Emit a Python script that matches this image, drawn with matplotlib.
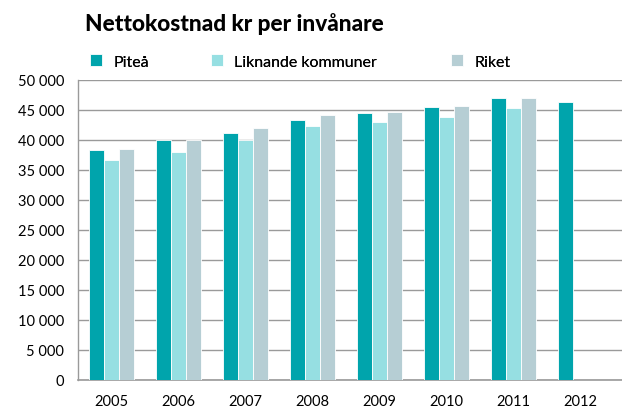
import numpy as np
import matplotlib.pyplot as plt

# Data
years = ['2005', '2006', '2007', '2008', '2009', '2010', '2011', '2012']
pitea = [38400, 40050, 41100, 43330, 44550, 45550, 46950, 46380]
liknande = [36600, 37950, 40050, 42330, 42950, 43780, 45380, np.nan]
riket = [38550, 40000, 41950, 44100, 44670, 45600, 46950, np.nan]
series_names = ['Piteå', 'Liknande kommuner', 'Riket']
colors = ['#00A4AC', '#96DFE2', '#B6CED4']

plt.rcParams['font.family'] = ['Lato', 'DejaVu Sans']

fig = plt.figure(figsize=(6.22, 4.10), dpi=100)
ax = fig.add_axes([78 / 622, 29 / 410, 544 / 622, 300 / 410])

x = np.arange(len(years))
w = 0.224
bars = []
for i, (vals, name, col) in enumerate(zip([pitea, liknande, riket], series_names, colors)):
    b = ax.bar(x + (i - 1) * w, vals, width=w, color=col, edgecolor='white',
               linewidth=0.6, label=name, zorder=3)
    bars.append(b)

ax.set_xlim(-0.5, 7.62)
ax.set_ylim(0, 50000)
ax.set_yticks(np.arange(0, 50001, 5000))
ax.set_yticklabels([f'{v:,}'.replace(',', ' ') for v in range(0, 50001, 5000)], fontsize=10.5)
ax.set_xticks(x)
ax.set_xticklabels(years, fontsize=10.5)
ax.tick_params(axis='both', length=0)
ax.tick_params(axis='x', pad=10)
ax.tick_params(axis='y', pad=10)

ax.grid(axis='y', color='#9A9A9A', linewidth=1.0, zorder=0)
for s in ['top', 'right']:
    ax.spines[s].set_visible(False)
for s in ['bottom', 'left']:
    ax.spines[s].set_color('#9A9A9A')
ax.spines['bottom'].set_linewidth(1.2)
ax.spines['left'].set_linewidth(1.0)

fig.text(85 / 622, 0.941, 'Nettokostnad kr per invånare', fontsize=16.3, fontweight='black',
         ha='left', va='center')

# one legend per series so each sits where it does in the original
legend_x = [90 / 622, 211 / 622, 451 / 622]
for b, name, lx in zip(bars, series_names, legend_x):
    leg = fig.legend([b], [name], loc='center left', bbox_to_anchor=(lx, 0.848), frameon=False,
                     fontsize=11.5, handlelength=0.75, handleheight=0.75, handletextpad=0.7,
                     borderaxespad=0, borderpad=0)
    fig.add_artist(leg)

fig.savefig('out.png', dpi=100)
